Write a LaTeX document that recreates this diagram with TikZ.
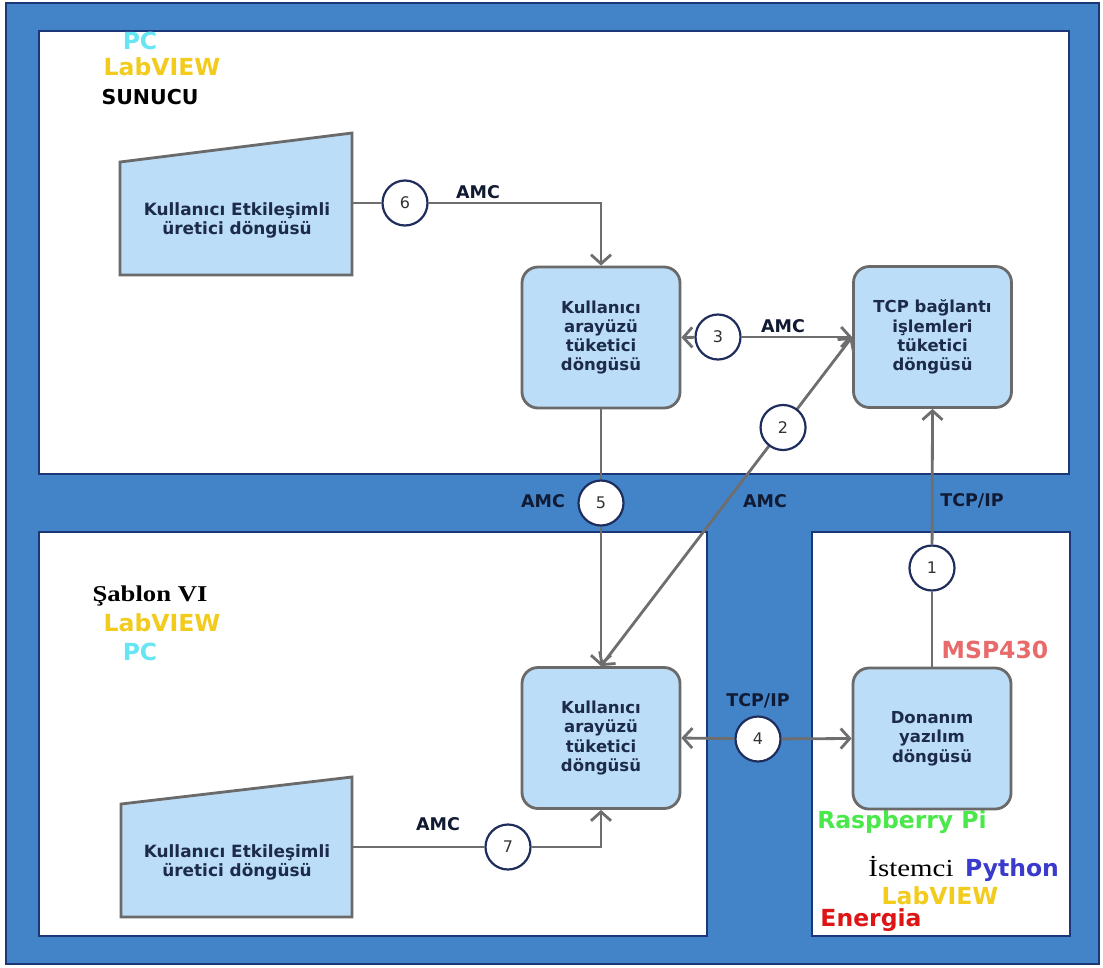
\documentclass[tikz,border=0pt]{standalone}
\usepackage{fontspec}
\setmainfont{DejaVu Sans}
\newfontfamily\serifface{Liberation Serif}[FakeStretch=1.18]
\usetikzlibrary{arrows.meta}

\definecolor{frameblue}{HTML}{4384C9}
\definecolor{navy}{HTML}{1B3778}
\definecolor{boxblue}{HTML}{BCDDF7}
\definecolor{boxgray}{HTML}{6A6A6A}
\definecolor{boxtext}{HTML}{1D2B4A}
\definecolor{circnavy}{HTML}{1E2D5C}
\definecolor{numgray}{HTML}{333333}
\definecolor{linegray}{HTML}{6E6E6E}
\definecolor{lbltext}{HTML}{111A33}
\definecolor{pccyan}{HTML}{66E6F2}
\definecolor{lvyellow}{HTML}{F2CB1D}
\definecolor{mspred}{HTML}{E86A6A}
\definecolor{rpigreen}{HTML}{4AE84A}
\definecolor{pyblue}{HTML}{3A3ACC}
\definecolor{enred}{HTML}{DD1515}

\begin{document}
\begin{tikzpicture}[x=1pt,y=-1pt,
  panel/.style={fill=white,draw=navy,line width=2.5pt},
  loopbox/.style={draw=boxgray,fill=boxblue,line width=2.8pt,rounded corners=16pt,
    minimum width=158pt,minimum height=141pt,inner sep=0pt,align=center,
    font=\bfseries\fontsize{16.5}{19.3}\selectfont,text=boxtext},
  genshape/.style={draw=boxgray,fill=boxblue,line width=2.8pt},
  gentext/.style={align=center,inner sep=0pt,font=\bfseries\fontsize{16.9}{19}\selectfont,text=boxtext},
  numcirc/.style={circle,draw=circnavy,fill=white,line width=2.2pt,minimum size=45pt,
    inner sep=0pt,font=\fontsize{16}{16}\selectfont,text=numgray},
  conn/.style={draw=linegray,line width=2.8pt},
  arrowend/.style={-{Straight Barb[length=9pt,width=20pt]}},
  flowlbl/.style={font=\bfseries\fontsize{17.5}{18}\selectfont,text=lbltext,inner sep=0pt,
    text height=0.73em,text depth=0pt},
  sidetag/.style={font=\bfseries\fontsize{23.5}{24}\selectfont,inner sep=0pt,
    text height=0.73em,text depth=0pt},
]
\useasboundingbox (0,0) rectangle (1103,967);

% frame and the three regions
\draw[fill=frameblue,draw=navy,line width=2.5pt] (6,3) rectangle (1099,964);
\draw[panel] (39,31) rectangle (1069,474);
\draw[panel] (39,532) rectangle (707,936);
\draw[panel] (812,532) rectangle (1070,936);

% region captions
\node[sidetag,text=pccyan] (pcA) at (140,46) {PC};
\node[sidetag,text=lvyellow] (lvA) at (162,72) {LabVIEW};
\node[sidetag,text=black,font=\bfseries\fontsize{20.5}{21}\selectfont] (srv) at (150,101) {SUNUCU};

\node[inner sep=0pt,text height=0.66em,text depth=0pt,font=\serifface\bfseries\fontsize{22.6}{23}\selectfont] (tpl) at (150,598) {Şablon VI};
\node[sidetag,text=lvyellow] (lvB) at (162,628) {LabVIEW};
\node[sidetag,text=pccyan] (pcB) at (140,657) {PC};

\node[sidetag,text=mspred] (msp) at (995,655) {MSP430};
\node[sidetag,text=rpigreen] (rpi) at (902,825) {Raspberry Pi};
\node[inner sep=0pt,text height=0.66em,text depth=0pt,font=\serifface\fontsize{24.5}{25}\selectfont] (cli) at (911,873) {İstemci};
\node[sidetag,text=pyblue] (py) at (1012,873) {Python};
\node[sidetag,text=lvyellow] (lvC) at (940,901) {LabVIEW};
\node[sidetag,text=enred] (ene) at (871,923) {Energia};

% producer loops (trapezoids)
\draw[genshape] (120,162) -- (352,133) -- (352,275) -- (120,275) -- cycle;
\node[gentext] (gen1) at (237,220) {Kullanıcı Etkileşimli\\üretici döngüsü};
\coordinate (gen1r) at (352,203);

\draw[genshape] (121,804) -- (352,777) -- (352,917) -- (121,917) -- cycle;
\node[gentext] (gen2) at (237,862) {Kullanıcı Etkileşimli\\üretici döngüsü};
\coordinate (gen2r) at (352,847);

% consumer loops
\node[loopbox] (ui1) at (601,337.5) {Kullanıcı\\arayüzü\\tüketici\\döngüsü};
\node[loopbox] (tcp) at (932.5,337) {TCP bağlantı\\işlemleri\\tüketici\\döngüsü};
\node[loopbox] (ui2) at (601,738) {Kullanıcı\\arayüzü\\tüketici\\döngüsü};
\node[loopbox] (hw) at (932,738.5) {Donanım\\yazılım\\döngüsü};

% numbered message points
\node[numcirc] (c6) at (405,203) {6};
\node[numcirc] (c3) at (718,337) {3};
\node[numcirc] (c5) at (601,503) {5};
\node[numcirc] (c1) at (932,568) {1};
\node[numcirc] (c4) at (758,739) {4};
\node[numcirc] (c7) at (508,847) {7};

% connectors
\draw[conn] (gen1r) -- (c6);
\draw[conn,arrowend] (c6) -| (ui1.north);
\draw[conn,arrowend] (c3) -- (ui1.east);
\draw[conn,arrowend] (c3) -- (tcp.west);
\draw[conn] (ui1.south) -- (c5);
\draw[conn,arrowend] (c5) -- (ui2.north);
\draw[conn,{Straight Barb[length=9pt,width=20pt]}-{Straight Barb[length=9pt,width=20pt]}]
  (ui2.north) -- (tcp.west) node[numcirc,pos=0.725] (c2) {2};
\draw[conn] (hw.north) -- (c1);
\draw[conn,arrowend] (c1) -- (tcp.south);
\draw[conn,arrowend] (c4) -- (ui2.east);
\draw[conn,arrowend] (c4) -- (hw.west);
\draw[conn] (gen2r) -- (c7);
\draw[conn,arrowend] (c7) -| (ui2.south);

% connector labels
\node[flowlbl] (l6) at (478,195) {AMC};
\node[flowlbl] (l3) at (783,329) {AMC};
\node[flowlbl] (l5) at (543,504) {AMC};
\node[flowlbl] (l2) at (765,504) {AMC};
\node[flowlbl] (l7) at (438,827) {AMC};
\node[flowlbl] (l1) at (972,503) {TCP/IP};
\node[flowlbl] (l4) at (758,703) {TCP/IP};
\end{tikzpicture}
\end{document}
